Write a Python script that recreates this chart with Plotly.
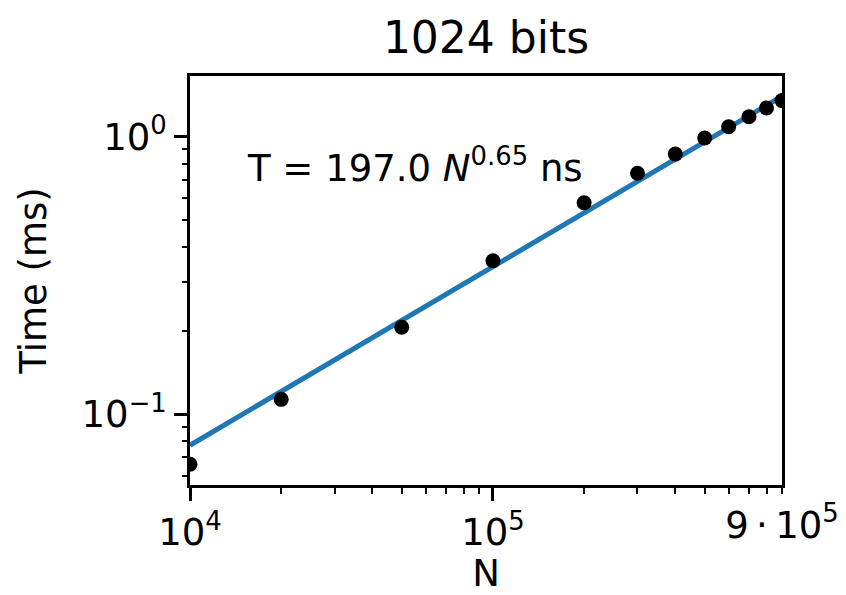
import math
import plotly.graph_objects as go

# Data
N_vals = [1e4, 2e4, 5e4, 1e5, 2e5, 3e5, 4e5, 5e5, 6e5, 7e5, 8e5, 9e5]
T_ms = [0.0659, 0.113, 0.2056, 0.357, 0.578, 0.739, 0.866, 0.99, 1.087, 1.18, 1.27, 1.35]
fit_N = [1e4, 9e5]
fit_T = [0.0772, 1.40]

x_major = [1e4, 1e5]
x_major_text = ["10<sup>4</sup>", "10<sup>5</sup>"]
x_minor = [2e4, 3e4, 4e4, 5e4, 6e4, 7e4, 8e4, 9e4, 2e5, 3e5, 4e5, 5e5, 6e5, 7e5, 8e5, 9e5]
x_minor_text = [""] * 15 + ["9\u2009·\u200910<sup>5</sup>"]
y_major = [0.1, 1.0]
y_major_text = ["10<sup>−1</sup>", "10<sup>0</sup>"]
y_minor = [0.06, 0.07, 0.08, 0.09, 0.2, 0.3, 0.4, 0.5, 0.6, 0.7, 0.8, 0.9]

xr = [4, math.log10(9e5)]
yr = [math.log10(0.0555), math.log10(1.656)]

FONT = "DejaVu Sans"
fig = go.Figure()
fig.add_trace(go.Scatter(x=fit_N, y=fit_T, mode="lines",
                         line=dict(color="#1f77b4", width=5), showlegend=False))
fig.add_trace(go.Scatter(x=N_vals, y=T_ms, mode="markers",
                         marker=dict(color="black", size=15), showlegend=False))
fig.add_trace(go.Scatter(x=[], y=[], xaxis="x2", yaxis="y2", showlegend=False))

common = dict(showgrid=False, zeroline=False, ticks="outside", tickcolor="black",
              automargin=False, tickangle=0,
              tickfont=dict(family=FONT, size=37, color="black"))
fig.update_layout(
    width=846, height=595,
    margin=dict(l=190, r=64, t=76, b=110),
    paper_bgcolor="white", plot_bgcolor="white",
    font=dict(family=FONT, color="black"),
    title=dict(text="1024 bits", x=0.5745, xanchor="center", y=1 - 38 / 595,
               yanchor="middle", font=dict(family=FONT, size=44, color="black")),
    xaxis=dict(type="log", range=xr, tickvals=x_major, ticktext=x_major_text,
               ticklen=13, tickwidth=2.5, showline=True, linecolor="black",
               linewidth=2.5, mirror=True,
               title=dict(text="N", font=dict(family=FONT, size=37, color="black"),
                          standoff=15), **common),
    yaxis=dict(type="log", range=yr, tickvals=y_major, ticktext=y_major_text,
               ticklen=13, tickwidth=2.5, showline=True, linecolor="black",
               linewidth=2.5, mirror=True,
               title=dict(text="Time (ms)", font=dict(family=FONT, size=37, color="black"),
                          standoff=24), **common),
    xaxis2=dict(type="log", range=xr, overlaying="x", anchor="y2", side="bottom",
                tickvals=x_minor, ticktext=x_minor_text, ticklen=7.5, tickwidth=2,
                showline=False, **common),
    yaxis2=dict(type="log", range=yr, overlaying="y", anchor="x2", side="left",
                tickvals=y_minor, ticktext=[""] * len(y_minor), ticklen=7.5, tickwidth=2,
                showline=False, **common),
    annotations=[dict(text="T = 197.0 <i>N</i><sup>0.65</sup> ns", xref="paper", yref="paper",
                      x=0.093, y=0.782, xanchor="left", yanchor="middle", showarrow=False,
                      font=dict(family=FONT, size=37, color="black"))],
)
fig.write_html("out.html")
